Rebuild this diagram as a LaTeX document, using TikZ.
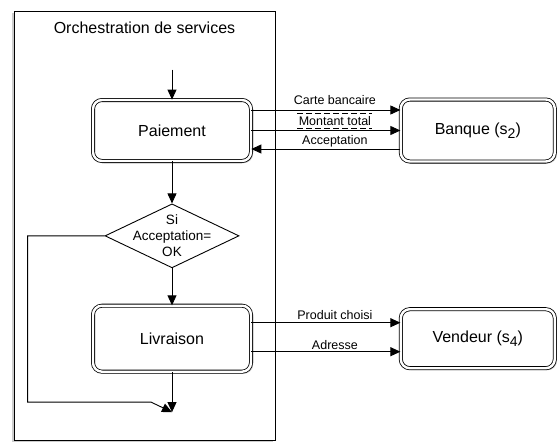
\documentclass[tikz,border=0pt]{standalone}
\usepackage{fontspec}
\setmainfont{Liberation Sans}
\usepackage{tikz}
\usetikzlibrary{positioning}
\usetikzlibrary{arrows.meta}
\usetikzlibrary{shapes.geometric}
\usetikzlibrary{shadows}
\newcommand{\serviceindex}[1]{\raisebox{-4pt}{\fontsize{14}{14}\selectfont #1}}
\tikzset{%
  orchestration/.style={
    rectangle,
    draw,
    line width=0.9pt,
    fill=white,
    inner sep=0pt,
    minimum width=261pt,
    minimum height=429pt,
    drop shadow={opacity=0.4, shadow xshift=-2pt, shadow yshift=-1.5pt}
  },
  service/.style={
    rectangle,
    rounded corners=9pt,
    draw,
    double,
    double distance=2.4pt,
    line width=0.8pt,
    fill=white,
    drop shadow={opacity=0.4, shadow xshift=2pt, shadow yshift=-2pt},
    minimum width=158pt,
    minimum height=61pt,
    font=\fontsize{16}{19}\selectfont
  },
  test/.style={
    diamond,
    draw,
    line width=0.9pt,
    inner sep=0pt,
    minimum width=134pt,
    minimum height=64pt
  },
  message/.style={
    font=\fontsize{12.5}{14}\selectfont,
    inner sep=1pt,
    xshift=9pt
  },
}

\begin{document}
\begin{tikzpicture}[x=1pt,y=1pt]
      \tikzstyle{line} = [draw, -{Triangle[length=10pt,width=9pt]}, line width=0.9pt]
      \useasboundingbox (0,0) rectangle (557,-442);

      % Orchestration
      \node[orchestration] (orch) at (144.5,-225.5) {};
      \node[below = 8pt of orch.north, font=\fontsize{16}{19}\selectfont] (titre) {Orchestration de services};

      % Paiement
      \node[service] (paiement) at (172,-130.5) {Paiement};
      \coordinate[above = 30pt of paiement.north] (debut);

      % Test on the answer
      \node[test, below = 42pt of paiement] (si) {};
      \node[align=center, inner sep=0pt, font=\fontsize{13.5}{16}\selectfont] (condition) at (si) {Si\\Acceptation=\\OK};

      % Livraison
      \node[service, minimum height=66pt, below = 37pt of si] (livraison) {Livraison};
      \coordinate[below = 40pt of livraison.south] (fin);

      % Banque & Vendeur
      \node[service, minimum width=154pt, minimum height=62pt, right = 149pt of paiement] (banque) {Banque (s\serviceindex{2})};
      \node[service, minimum width=154pt, minimum height=59pt, right = 149pt of livraison] (vendeur) {Vendeur (s\serviceindex{4})};

      % flow inside the orchestration
      \path[line] (debut) -- (paiement);
      \path[line] (paiement) -- (si);
      \path[line] (si) -- (livraison);
      \path[line] (livraison) -- (fin);
      \path[line] (si.west) -- ++(-77,0) |- ([xshift=-21pt,yshift=10pt]fin) -- (fin);

      % paiement <-> banque
      \path[line] ([yshift=20.5pt]paiement.east) -- node[message, above=4pt] (carte) {Carte bancaire} ([yshift=20.5pt]banque.west);
      \path[line] (paiement.east) -- node[message, above=3pt] (montant) {Montant total} (banque.west);
      \draw[dashed, dash pattern=on 6pt off 3pt, line width=0.8pt] ([yshift=2pt]montant.north west) -- ([yshift=2pt]montant.north east);
      \draw[dashed, dash pattern=on 6pt off 3pt, line width=0.8pt] ([yshift=-1pt]montant.south west) -- ([yshift=-1pt]montant.south east);
      \path[line] ([yshift=-18.5pt]banque.west) -- node[message, above=0pt] (acceptation) {Acceptation} ([yshift=-18.5pt]paiement.east);

      % livraison -> vendeur
      \path[line] ([yshift=16pt]livraison.east) -- node[message, above=1.5pt] (produit) {Produit choisi} ([yshift=16pt]vendeur.west);
      \path[line] ([yshift=-13pt]livraison.east) -- node[message, above=0.5pt] (adresse) {Adresse} ([yshift=-13pt]vendeur.west);
\end{tikzpicture}
\end{document}
